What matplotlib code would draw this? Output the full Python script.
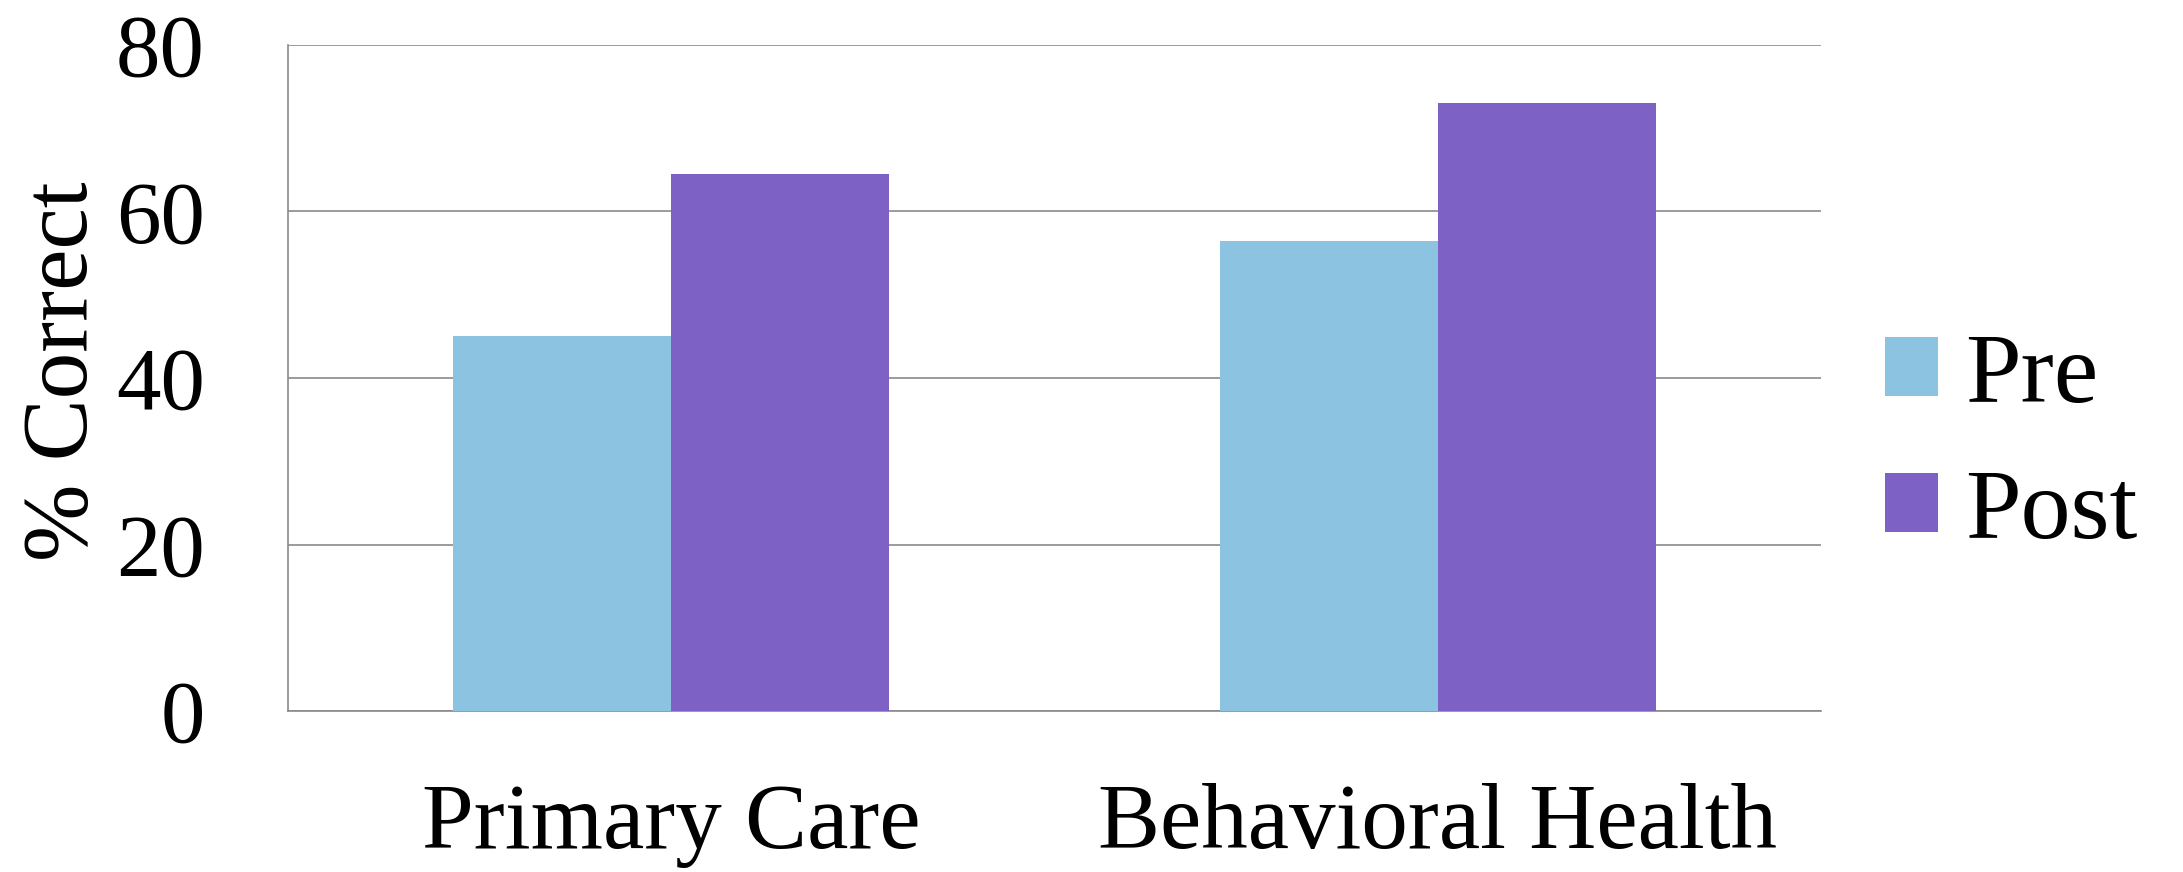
import matplotlib
matplotlib.use("Agg")
import matplotlib.pyplot as plt
from matplotlib.patches import Patch
import numpy as np

categories = ["Primary Care", "Behavioral Health"]
series_names = ["Pre", "Post"]
pre_values = [45.0, 56.5]
post_values = [64.5, 73.0]
y_ticks = [0, 20, 40, 60, 80]

colors = {"Pre": "#8CC3E0", "Post": "#7E61C5"}

plt.rcParams["font.family"] = ["Liberation Serif", "DejaVu Serif"]

W, H = 2183, 872
fig = plt.figure(figsize=(W / 100, H / 100), dpi=100)
ax = fig.add_axes([288 / W, 1 - 711 / H, (1821 - 288) / W, (711 - 45) / H])

x = np.arange(len(categories))
width = 0.2845
ax.bar(x - width / 2, pre_values, width, color=colors["Pre"], zorder=3, label="Pre")
ax.bar(x + width / 2, post_values, width, color=colors["Post"], zorder=3, label="Post")

ax.set_xlim(-0.5, len(categories) - 0.5)
ax.set_ylim(0, 80)
ax.set_yticks(y_ticks)
ax.set_yticklabels([str(v) for v in y_ticks])
ax.set_xticks(x)
ax.set_xticklabels(categories)

ax.tick_params(axis="y", length=0, pad=60, labelsize=64)
ax.tick_params(axis="x", length=0, pad=52, labelsize=67)

ax.yaxis.grid(True, color="#8a8a8a", linewidth=1.2, zorder=0)
ax.set_axisbelow(True)
for side in ["top", "right"]:
    ax.spines[side].set_visible(False)
for side in ["left", "bottom"]:
    ax.spines[side].set_color("#8a8a8a")
    ax.spines[side].set_linewidth(1.2)

ax.set_ylabel("% Correct", fontsize=67)
ax.yaxis.set_label_coords(-0.118, 0.51)

handles = [Patch(facecolor=colors[n], label=n) for n in series_names]
leg = fig.legend(handles=handles, loc="center left",
                 bbox_to_anchor=(1885 / W, 1 - 446 / H), bbox_transform=fig.transFigure,
                 frameon=False, fontsize=72, handlelength=0.53, handleheight=0.53,
                 handletextpad=0.27, labelspacing=0.46, borderpad=0, borderaxespad=0)

fig.savefig("out.png", dpi=100, facecolor="white")
